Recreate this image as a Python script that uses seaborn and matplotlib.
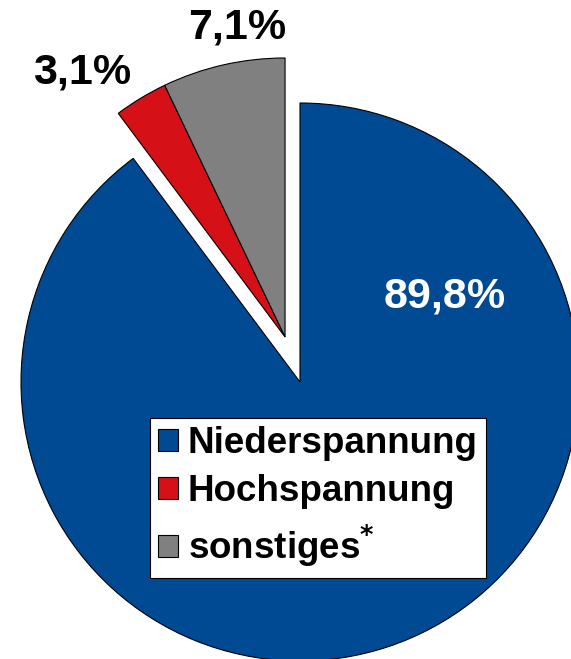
import numpy as np
import matplotlib.pyplot as plt
import seaborn as sns
from matplotlib.patches import Patch

# --- Data ---
categories = ['Niederspannung', 'Hochspannung', 'sonstiges']
shares = [89.8, 3.1, 7.1]
value_labels = ['89,8%', '3,1%', '7,1%']
legend_labels = ['Niederspannung', 'Hochspannung', r'sonstiges$^{\mathbf{*}}$']
colors = ['#004A94', '#D51016', '#808080']

sns.set_theme(style='white')
plt.rcParams['font.family'] = ['Liberation Sans', 'DejaVu Sans']
plt.rcParams['text.color'] = 'black'

fig = plt.figure(figsize=(5.71, 6.59), dpi=100)
ax = fig.add_axes([0, 0, 1, 1])

# pie centre sits at pixel (300, 382), radius 279 px
wedges, _ = ax.pie(shares, colors=colors, startangle=90, counterclock=False,
                   wedgeprops=dict(edgecolor='black', linewidth=0.8))

# pull the two small slices out together, along their common bisector
th_lo = min(w.theta1 for w in wedges[1:])
th_hi = max(w.theta2 for w in wedges[1:])
mid = np.deg2rad((th_lo + th_hi) / 2)
for w in wedges[1:]:
    w.set_center((0.17 * np.cos(mid), 0.17 * np.sin(mid)))

ax.set_xlim(-300 / 279, 271 / 279)
ax.set_ylim(-277 / 279, 382 / 279)
ax.set_aspect('auto')
ax.axis('off')

# percentage labels
label_pos = [(0.52, 0.305), (-0.781, 1.111), (-0.226, 1.269)]
label_col = ['white', 'black', 'black']
for txt, (x, y), c in zip(value_labels, label_pos, label_col):
    ax.text(x, y, txt, ha='center', va='center', fontsize=31,
            fontweight='bold', color=c)

handles = [Patch(facecolor=c, edgecolor='black', linewidth=0.8) for c in colors]
leg = fig.legend(handles, legend_labels, loc='upper left',
                 bbox_to_anchor=(150 / 571, 1 - 418 / 659),
                 prop=dict(size=26.5, weight='bold'),
                 handlelength=0.55, handleheight=0.55, handletextpad=0.25,
                 labelspacing=0.36, borderpad=0.22, borderaxespad=0,
                 frameon=True, fancybox=False, framealpha=1)
leg.get_frame().set_edgecolor('black')
leg.get_frame().set_linewidth(0.8)
for t in leg.get_texts():
    t.set_color('black')

plt.savefig('out.png', dpi=100)
